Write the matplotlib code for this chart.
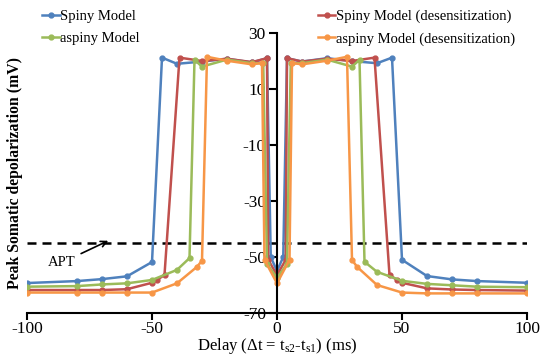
import matplotlib
matplotlib.use("Agg")
import matplotlib.pyplot as plt

plt.rcParams['font.family'] = ['Liberation Serif', 'DejaVu Serif']
plt.rcParams['mathtext.fontset'] = 'custom'
plt.rcParams['mathtext.rm'] = 'Liberation Serif'
plt.rcParams['mathtext.it'] = 'Liberation Serif:italic'
plt.rcParams['axes.unicode_minus'] = False

# Spiny Model
spiny_x = [-100, -80, -70, -60, -50, -46, -40, -30, -20, -10, -4, -2.5, 0,
           2.5, 4, 10, 20, 30, 40, 46, 50, 60, 70, 80, 100]
spiny_y = [-59.3, -58.6, -57.9, -56.9, -51.8, 21.2, 19.0, 19.8, 20.8, 19.5, 21.0, -50.0, -55.0,
           -50.0, 21.0, 19.8, 21.0, 20.0, 19.2, 21.2, -51.0, -56.8, -58.0, -58.6, -59.2]

# Spiny Model (desensitization)
spiny_d_x = [-100, -80, -70, -60, -50, -48, -45, -39, -30, -20, -10, -4, -3.5, 0,
             3.5, 4, 10, 20, 30, 39, 45, 48, 50, 60, 70, 80, 100]
spiny_d_y = [-61.8, -61.8, -61.8, -61.5, -59.2, -58.2, -56.4, 21.2, 20.0, 20.8, 19.6, 21.0, -51.0, -56.5,
             -51.0, 21.0, 19.8, 20.8, 20.0, 21.2, -56.4, -58.2, -59.2, -61.2, -61.6, -61.8, -62.0]

# aspiny Model
aspiny_x = [-100, -80, -70, -60, -50, -40, -35, -33, -30, -20, -10, -5.5, -4, 0,
            4, 5.5, 10, 20, 30, 33, 35, 40, 50, 60, 70, 80, 100]
aspiny_y = [-60.6, -60.4, -59.8, -59.4, -58.2, -54.6, -50.4, 20.4, 18.0, 20.5, 19.2, 19.2, -52.5, -57.5,
            -52.5, 19.2, 19.2, 20.5, 18.0, 20.4, -51.7, -55.3, -58.5, -59.6, -60.1, -60.6, -60.8]

# aspiny Model (desensitization)
aspiny_d_x = [-100, -80, -70, -60, -50, -40, -32, -30, -28, -20, -10, -6, -5, 0,
              5, 6, 10, 20, 28, 30, 32, 40, 50, 60, 70, 80, 100]
aspiny_d_y = [-62.7, -62.7, -62.7, -62.7, -62.7, -59.4, -53.5, -51.3, 21.5, 20.1, 18.8, 19.3, -51.0, -59.4,
              -51.0, 19.3, 18.8, 20.1, 21.5, -51.0, -53.5, -60.0, -62.7, -63.0, -63.0, -63.0, -63.0]

apt = -45
x_ticks = [-100, -50, 0, 50, 100]
y_ticks = [30, 10, -10, -30, -50, -70]

fig = plt.figure(figsize=(5.41, 3.58), dpi=100)
ax = fig.add_axes([27 / 541, 1 - 313 / 358, 500 / 541, 280 / 358])

style = dict(lw=1.8, marker='o', markersize=3.5)
h1, = ax.plot(spiny_x, spiny_y, color='#4F81BD', label='Spiny Model', **style)
h3, = ax.plot(spiny_d_x, spiny_d_y, color='#C0504D', label='Spiny Model (desensitization)', **style)
h2, = ax.plot(aspiny_x, aspiny_y, color='#9BBB59', label='aspiny Model', **style)
h4, = ax.plot(aspiny_d_x, aspiny_d_y, color='#F79646', label='aspiny Model (desensitization)', **style)

ax.axhline(apt, color='black', lw=1.8, ls=(0, (3.6, 2.4)), zorder=1)
ax.annotate('APT', xy=(-67.5, -44.2), xytext=(-86, -52), fontsize=10.5,
            ha='center', va='center',
            arrowprops=dict(arrowstyle='->', color='black', lw=1.2,
                            shrinkA=2, shrinkB=0))

ax.set_xlim(-100, 100)
ax.set_ylim(-70, 30)
ax.set_xticks(x_ticks)
ax.set_yticks(y_ticks)
ax.spines['left'].set_position(('data', 0))
ax.spines['right'].set_visible(False)
ax.spines['top'].set_visible(False)
for s in ['left', 'bottom']:
    ax.spines[s].set_linewidth(1.5)
ax.tick_params(direction='out', length=6, width=1.5, labelsize=12.5, pad=2)
ax.tick_params(axis='x', length=5, pad=1)

# axis titles
fig.text(277 / 541, 1 - 346 / 358,
         r'Delay ($\Delta$t = t$_{\mathrm{s2}}$-t$_{\mathrm{s1}}$) (ms)',
         ha='center', va='center', fontsize=12)
fig.text(15 / 541, 1 - 173 / 358, 'Peak Somatic depolarization (mV)', rotation=90,
         ha='center', va='center', fontsize=11.3, fontweight='bold')

fig.legend(handles=[h1, h2, h3, h4], ncol=2, loc='upper left',
           bbox_to_anchor=(42 / 541, 1 - 10 / 358), frameon=False, fontsize=10.5,
           handlelength=1.2, handletextpad=0.05, columnspacing=12.2,
           labelspacing=0.6, borderpad=0, borderaxespad=0)

fig.savefig('out.png', dpi=100)
